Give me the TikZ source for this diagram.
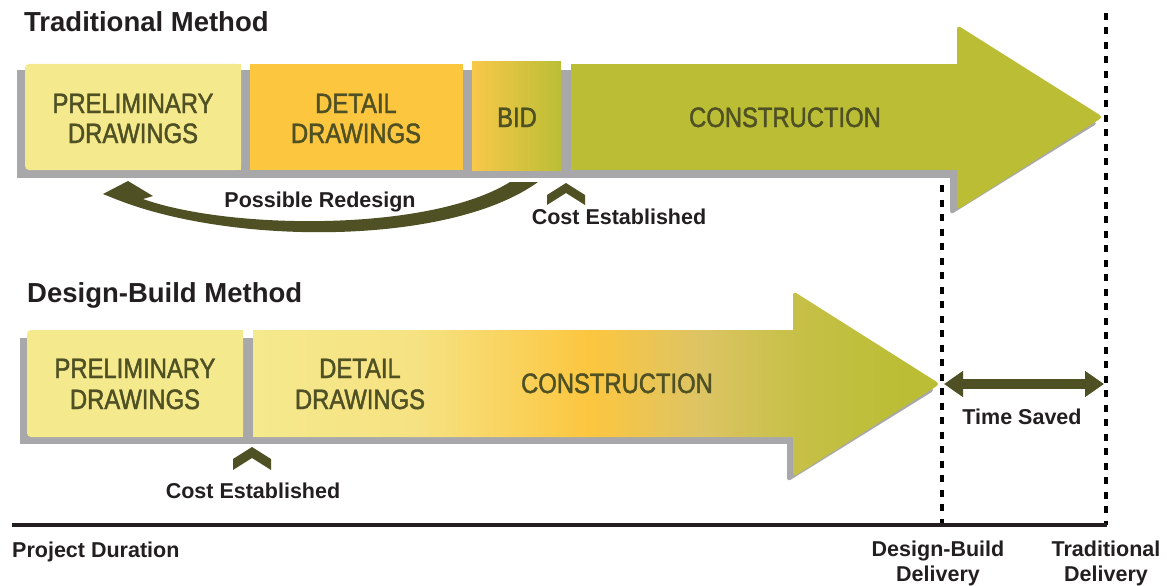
\documentclass[tikz,border=0pt]{standalone}
\usepackage{fontspec}
\setmainfont{Liberation Sans}
\newfontfamily\boxfont{Liberation Sans}[FakeStretch=0.85,FakeBold=1.6]
\usetikzlibrary{arrows.meta}
\definecolor{prelimc}{HTML}{F5E98D}
\definecolor{detailc}{HTML}{FCC63F}
\definecolor{constrc}{HTML}{BBBE35}
\definecolor{bidl}{HTML}{F8C84A}
\definecolor{shadowc}{HTML}{A8A8AA}
\definecolor{oliv}{HTML}{4F5124}
\definecolor{ink}{HTML}{231F20}
\definecolor{dbA}{HTML}{F6E282}
\definecolor{dbB}{HTML}{DDC464}
\definecolor{dbC}{HTML}{C6C047}
\pgfdeclarehorizontalshading{dbshade}{100bp}{color(0bp)=(prelimc); color(25bp)=(prelimc); color(37bp)=(dbA); color(49.5bp)=(detailc); color(57.5bp)=(dbB); color(64.7bp)=(dbC); color(72bp)=(constrc); color(75bp)=(constrc); color(100bp)=(constrc)}
\begin{document}
\begin{tikzpicture}[x=1pt,y=-1pt,
  lbl/.style={font=\fontsize{21.5}{24}\selectfont\bfseries, text=ink, inner sep=0pt, anchor=base},
  ttl/.style={font=\fontsize{27.5}{30}\selectfont\bfseries, text=ink, inner sep=0pt, anchor=base west},
  boxt/.style={font=\boxfont\fontsize{28}{30}\selectfont, text=oliv, inner sep=0pt, anchor=base},
  shadowfill/.style={fill=shadowc},
  chev/.style={fill=oliv},
  dotline/.style={draw=black, line width=4pt, dash pattern=on 7pt off 7.5pt},
  timeline/.style={draw=ink, line width=3.5pt}]
\useasboundingbox (0,0) rectangle (1167,586);

% ---------- Traditional Method ----------
\node[ttl] (ttrad) at (24,32) {Traditional Method};

% shadow
\fill[shadowfill] (17,70) rectangle (960,178);
\fill[shadowfill, rounded corners=4pt] (950,70) -- (950,215) -- (1098,123) -- (1000,86) -- cycle;

% boxes
\fill[prelimc, rounded corners=4pt] (25,64) rectangle (241,170);
\fill[prelimc] (200,64) rectangle (241,170);
\fill[detailc] (250,64) rectangle (463,170);
\shade[left color=bidl, right color=constrc] (472,62) rectangle (561,170);
\fill[constrc] (571,64) rectangle (962,170);
\fill[constrc, rounded corners=4pt] (957,25) -- (957,210) -- (1103,117) -- cycle;

\node[boxt] (tp1) at (133,113) {PRELIMINARY};
\node[boxt] (tp2) at (133,143) {DRAWINGS};
\node[boxt] (td1) at (356,113) {DETAIL};
\node[boxt] (td2) at (356,143) {DRAWINGS};
\node[boxt] (tb) at (517,127) {BID};
\node[boxt] (tc) at (785,127) {CONSTRUCTION};

% possible redesign arrow
\fill[oliv] (103,194) -- (128,181) -- (153,196) -- (143,199)
  .. controls (230,230) and (430,232) .. (510,182) -- (538,182)
  .. controls (450,246) and (230,246) .. (113,198) -- cycle;
\node[lbl] (redesign) at (320,207) {Possible Redesign};

% cost established (top)
\fill[chev] (547,195) -- (566,183) -- (585,195) -- (585,205) -- (566,193) -- (547,205) -- cycle;
\node[lbl] (cost1) at (619,224) {Cost Established};

% ---------- Design-Build Method ----------
\node[ttl] (tdb) at (27,302) {Design-Build Method};

\fill[shadowfill] (20,338) rectangle (800,444);
\fill[shadowfill, rounded corners=4pt] (787,338) -- (787,482) -- (935,390) -- (840,338) -- cycle;

\fill[prelimc, rounded corners=4pt] (27,330) rectangle (243,437);
\fill[prelimc] (200,330) rectangle (243,437);
\shade[shading=dbshade] (253,330) -- (253,437) -- (796,437) -- (796,330) -- cycle
  [rounded corners=4pt] (793,291) -- (793,477) -- (940,384) -- cycle;

\node[boxt] (bp1) at (135,378) {PRELIMINARY};
\node[boxt] (bp2) at (135,409) {DRAWINGS};
\node[boxt] (bd1) at (360,378) {DETAIL};
\node[boxt] (bd2) at (360,409) {DRAWINGS};
\node[boxt] (bc) at (617,393) {CONSTRUCTION};

\fill[chev] (233,459) -- (252,447) -- (271,459) -- (271,470) -- (252,458) -- (233,470) -- cycle;
\node[lbl] (cost2) at (253,498) {Cost Established};

% ---------- time saved ----------
\coordinate (dbdel) at (944,384);
\coordinate (trdel) at (1104,384);
\draw[oliv, line width=10pt, {Triangle[width=25pt,length=19pt]}-{Triangle[width=25pt,length=19pt]}] (dbdel) -- (trdel);
\node[lbl] (saved) at (1022,424) {Time Saved};

% ---------- dotted lines & timeline ----------
\coordinate (dtop1) at (1105.5,13);
\coordinate (dbot1) at (1105.5,525);
\coordinate (dtop2) at (942,185);
\coordinate (dbot2) at (942,525);
\draw[dotline] (dtop1) -- (dbot1);
\draw[dotline] (dtop2) -- (dbot2);
\coordinate (tl0) at (12,525);
\coordinate (tl1) at (1107,525);
\draw[timeline] (tl0) -- (tl1);

\node[lbl, anchor=base west] (pd) at (12,557) {Project Duration};
\node[lbl] (dbd1) at (938,556) {Design-Build};
\node[lbl] (dbd2) at (938,581) {Delivery};
\node[lbl] (trd1) at (1106,556) {Traditional};
\node[lbl] (trd2) at (1106,581) {Delivery};
\end{tikzpicture}
\end{document}
